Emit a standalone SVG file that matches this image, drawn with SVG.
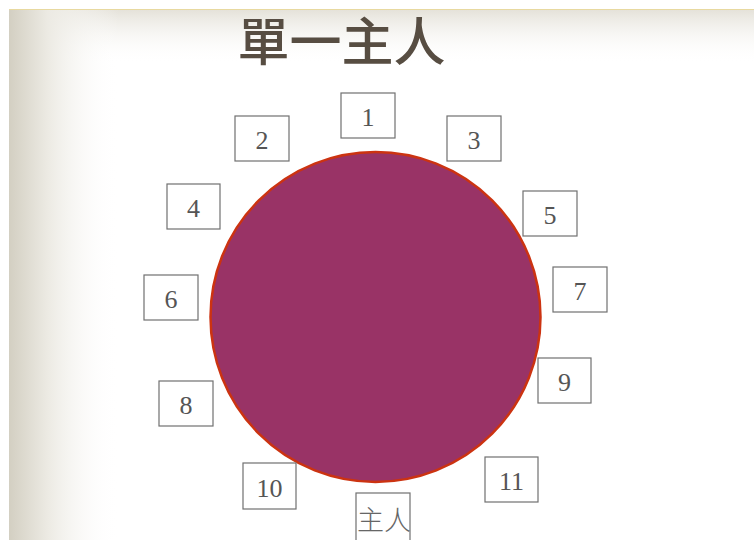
<svg xmlns="http://www.w3.org/2000/svg" width="754" height="540" viewBox="0 0 754 540">
<defs>
<linearGradient id="lg" x1="0" y1="0" x2="1" y2="0">
<stop offset="0" stop-color="#d3cfc2"/>
<stop offset="0.35" stop-color="#eceae3"/>
<stop offset="1" stop-color="#ffffff" stop-opacity="0"/>
</linearGradient>
<linearGradient id="tg" x1="0" y1="0" x2="0" y2="1">
<stop offset="0" stop-color="#e4e1d8"/>
<stop offset="1" stop-color="#ffffff" stop-opacity="0"/>
</linearGradient>
<style>
.box{fill:#fff;stroke:#707070;stroke-width:1.2}
.num{font-family:"Liberation Serif","Times New Roman",serif;font-size:26px;fill:#555;text-anchor:middle}
</style>
</defs>
<rect x="0" y="0" width="754" height="540" fill="#fff"/>
<rect x="9" y="9" width="745" height="55" fill="url(#tg)"/>
<rect x="9" y="9" width="110" height="531" fill="url(#lg)"/>
<line x1="9" y1="9.5" x2="754" y2="9.5" stroke="#e8d9a0" stroke-width="1"/>
<g id="title"><text x="341.5" y="61" font-family="'Noto Sans CJK TC','Noto Sans CJK SC',sans-serif" font-weight="500" font-size="52" fill="#574d42" text-anchor="middle">單一主人</text></g>
<g id="table"><circle cx="375.5" cy="317" r="165" fill="#993366" stroke="#cc3311" stroke-width="2.5"/></g>
<g id="n1"><rect class="box" x="341" y="93" width="54" height="45"/><text class="num" x="368" y="126">1</text></g>
<g id="n2"><rect class="box" x="235" y="116" width="54" height="45"/><text class="num" x="262" y="149">2</text></g>
<g id="n3"><rect class="box" x="447" y="116" width="54" height="45"/><text class="num" x="474" y="149">3</text></g>
<g id="n4"><rect class="box" x="167" y="184" width="53" height="45"/><text class="num" x="193.5" y="217">4</text></g>
<g id="n5"><rect class="box" x="523" y="191" width="54" height="45"/><text class="num" x="550" y="224">5</text></g>
<g id="n6"><rect class="box" x="144" y="275" width="54" height="45"/><text class="num" x="171" y="308">6</text></g>
<g id="n7"><rect class="box" x="553" y="267" width="54" height="45"/><text class="num" x="580" y="300">7</text></g>
<g id="n8"><rect class="box" x="159" y="381" width="54" height="45"/><text class="num" x="186" y="414">8</text></g>
<g id="n9"><rect class="box" x="538" y="358" width="53" height="45"/><text class="num" x="564.5" y="391">9</text></g>
<g id="n10"><rect class="box" x="243" y="463" width="53" height="46"/><text class="num" x="269.5" y="497">10</text></g>
<g id="n11"><rect class="box" x="485" y="457" width="53" height="45"/><text class="num" x="511.5" y="490">11</text></g>
<g id="host"><rect class="box" x="356" y="493" width="54" height="50"/><text x="384" y="530" font-family="'Noto Sans CJK TC','Noto Sans CJK SC',sans-serif" font-weight="300" font-size="27" fill="#666" text-anchor="middle">主人</text></g>
<g id="connectors"/>
</svg>
